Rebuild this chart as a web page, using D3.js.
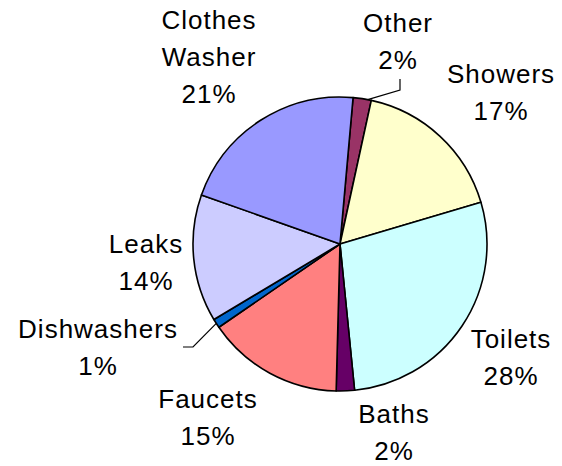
<!DOCTYPE html>
<html>
<head>
<meta charset="utf-8">
<script src="https://cdn.jsdelivr.net/npm/d3@7"></script>
<style>
  body { margin: 0; background: #fff; }
  svg { display: block; }
  text { font-family: "Liberation Sans", Arial, sans-serif; font-size: 26px; fill: #000; letter-spacing: 1px; }
</style>
</head>
<body>
<svg id="chart" width="562" height="466"></svg>
<script>
// --- data (clockwise from the top) ---
var categories = ['Other', 'Showers', 'Toilets', 'Baths', 'Faucets', 'Dishwashers', 'Leaks', 'Clothes Washer'];
var shares     = [2, 17, 28, 2, 15, 1, 14, 21];
var colors     = ['#993366', '#ffffcc', '#ccffff', '#660066', '#ff8080', '#0066cc', '#ccccff', '#9999ff'];

// label text lines for each slice (same order)
var labelLines = [
  ['Other', '2%'],
  ['Showers', '17%'],
  ['Toilets', '28%'],
  ['Baths', '2%'],
  ['Faucets', '15%'],
  ['Dishwashers', '1%'],
  ['Leaks', '14%'],
  ['Clothes', 'Washer', '21%']
];

// --- layout ---
var cx = 340, cy = 244, r = 147;
var startDeg = 5.1;
var lineGap = 37;

// label centre x / first baseline y, placed by hand like the original
var labelPos = [
  [398, 32], [501, 83], [511, 348], [394, 423],
  [208, 408], [98, 338], [146, 253], [209, 29]
];

var svg = d3.select('#chart');
var g = svg.append('g').attr('transform', 'translate(' + cx + ',' + cy + ')');

var start = startDeg * Math.PI / 180;
var pie = d3.pie().sort(null).value(function(d) { return d; })
  .startAngle(start).endAngle(start + 2 * Math.PI);
var arc = d3.arc().innerRadius(0).outerRadius(r);
var arcs = pie(shares);

g.selectAll('path')
  .data(arcs)
  .enter()
  .append('path')
  .attr('d', arc)
  .attr('fill', function(d, i) { return colors[i]; })
  .attr('stroke', '#000')
  .attr('stroke-width', 1.6)
  .attr('stroke-linejoin', 'round');

// point on the rim inside a slice (frac: 0 = start edge, 1 = end edge)
function rimPoint(a, rad, frac) {
  var m = a.startAngle + (a.endAngle - a.startAngle) * frac;
  return [cx + rad * Math.sin(m), cy - rad * Math.cos(m)];
}

// leader lines for the two thin slices
var oth = rimPoint(arcs[0], r, 0.8);
var dsh = rimPoint(arcs[5], r, 0.5);
var leaders = [
  [[400, 79], [400, 90], oth],
  [[183, 347], [193, 347], dsh]
];
svg.selectAll('path.leader')
  .data(leaders)
  .enter()
  .append('path')
  .attr('class', 'leader')
  .attr('d', d3.line())
  .attr('fill', 'none')
  .attr('stroke', '#000')
  .attr('stroke-width', 1.2);

// labels
var lab = svg.selectAll('text.lab')
  .data(labelLines)
  .enter()
  .append('text')
  .attr('class', 'lab')
  .attr('text-anchor', 'middle');

lab.each(function(lines, i) {
  var t = d3.select(this);
  lines.forEach(function(s, j) {
    t.append('tspan')
      .attr('x', labelPos[i][0])
      .attr('y', labelPos[i][1] + j * lineGap)
      .text(s);
  });
});
</script>
</body>
</html>
